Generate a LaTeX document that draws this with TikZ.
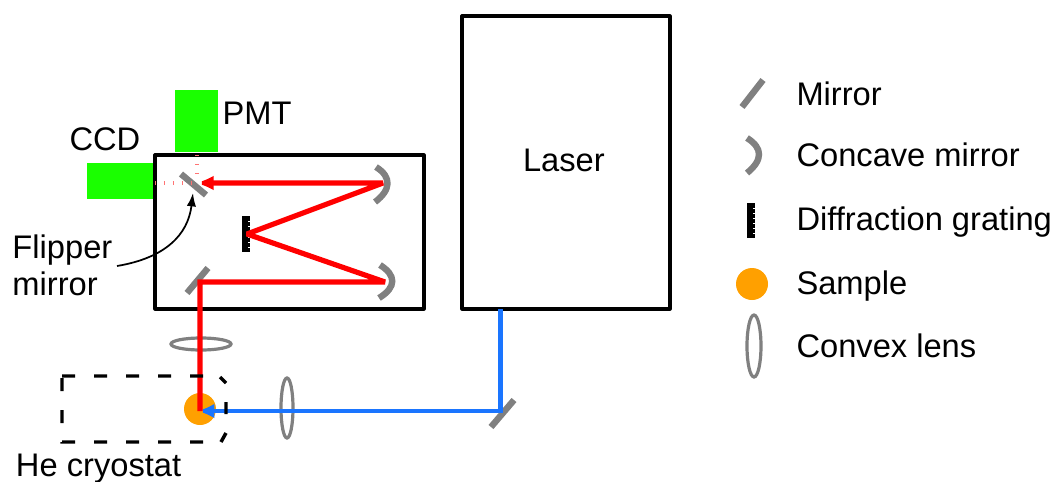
\documentclass[tikz,border=0pt]{standalone}
\usepackage{fontspec}
\setmainfont{Liberation Sans}
\usepackage{xcolor}
\usetikzlibrary{arrows.meta,positioning,calc}
\definecolor{beamred}    {RGB}{255,   0,   0}
\definecolor{beamblue}   {RGB}{ 26, 117, 255}
\definecolor{detgreen}   {RGB}{ 26, 255,   0}
\definecolor{optgray}    {RGB}{128, 128, 128}
\definecolor{sampleorange}{RGB}{255, 160,   0}

\begin{document}
\begin{tikzpicture}[
  x=0.75pt,y=-0.75pt,
  every node/.style={font=\fontsize{24.5}{27.75}\selectfont,inner sep=0pt,outer sep=0pt},
  lbl/.style={anchor=base west,align=left},
  box/.style={draw=black,line width=2.4pt,line join=round,fill=none},
  det/.style={fill=detgreen,draw=none},
  mirror/.style={draw=optgray,line width=4.8pt},
  concave/.style={draw=optgray,line width=4.8pt},
  lens/.style={draw=optgray,line width=2.4pt},
  sample/.style={circle,fill=sampleorange,minimum size=24pt},
  redbeam/.style={draw=beamred,line width=3.9pt,miter limit=2,-{Latex[length=14pt,width=11pt]}},
  bluebeam/.style={draw=beamblue,line width=3.4pt,miter limit=2,-{Latex[length=13pt,width=11pt]}},
  leak/.style={draw=beamred!55,line width=2.6pt,dash pattern=on 0.8pt off 5.9pt},
  cryo/.style={draw=black,line width=2.6pt,dash pattern=on 9.75pt off 14.25pt},
]
\useasboundingbox (0,0) rectangle (1054,482);

%% Boxes
\node[box,minimum width=156pt,minimum height=219.75pt] (laser) at (566,162.5) {};
\node[box,minimum width=201.75pt,minimum height=115.5pt] (spec) at (289.5,232) {};
\node[det,minimum width=32.25pt,minimum height=46.5pt] (pmt) at (196.5,121) {};
\node[det,minimum width=49.5pt,minimum height=27pt] (ccd) at (120,181) {};

%% Beam corners
\coordinate (turn) at (200,282);
\coordinate (lowcm) at (385,282);
\coordinate (grat) at (247,234);
\coordinate (upcm) at (383,183);
\coordinate (flip) at (195,183);
\coordinate (samp) at (200,411);
\coordinate (foldm) at (500.5,411);
\coordinate (lasout) at (500.5,309);

%% Flat mirrors
\draw[mirror] (181,174) -- (206,195);
\draw[mirror] (208,268) -- (187,293);
\draw[mirror] (514,400) -- (491,427);
\draw[mirror] (763,80) -- (742,107);

%% Concave mirrors
\draw[concave] (376,167) .. controls (392,177) and (391,190) .. (375,202);
\draw[concave] (380,265) .. controls (396,275) and (397,287) .. (379,298);
\draw[concave] (747,138) .. controls (763,148) and (763,160) .. (747,173);

%% Gratings
\foreach \gx/\gy/\gh in {242/216/36,747/203/35}{
  \fill[black] (\gx,\gy) rectangle ++(8,\gh);
  \foreach \k in {1,...,6}
    \fill[white] (\gx+5.5,\gy+\k*\gh/7) rectangle ++(2.5,1);
}

%% Sample and lenses
\node[sample] (sampleA) at (200,409) {};
\node[sample] (sampleB) at (752,284) {};
\draw[lens] (201,344) ellipse (30 and 6);
\draw[lens] (287,408) ellipse (6 and 30);
\draw[lens] (754,346) ellipse (7 and 31);

%% Leakage to detectors
\draw[leak] (155,183) -- (195,183);
\draw[leak] (197,155) -- (197,180);

%% Beams
\draw[redbeam] (samp) -- (turn) -- (lowcm) -- (grat) -- (upcm) -- (flip);
\draw[bluebeam] (lasout) -- (foldm) -- ($(samp)+(-3,0)$);

%% Cryostat
\draw[cryo] (62,376) -- (203,376) (203,442) -- (62,442) -- (62,376)
  (220,377) -- (226,383) (226,402) -- (226,414) (226,433) -- (221,442);

%% Labels
\node[lbl] (laserlbl) at (523,171) {Laser};
\node[lbl] (pmtlbl) at (222.5,124) {PMT};
\node[lbl] (ccdlbl) at (69.5,150) {CCD};
\node[anchor=west,align=left] (fliplbl) at (12.5,265) {Flipper\\mirror};
\node[lbl] (cryolbl) at (16,476.5) {He cryostat};
\coordinate (fliptip) at (193,193);
\draw[black,line width=1.3pt,-{Latex[length=10pt,width=7pt]}] (117,266) .. controls (165,258) and (188,235) .. (fliptip);

%% Legend
\node[lbl] (leg1) at (796.5,105) {Mirror};
\node[lbl] (leg2) at (796.5,166) {Concave mirror};
\node[lbl] (leg3) at (796.5,230) {Diffraction grating};
\node[lbl] (leg4) at (796.5,294.5) {Sample};
\node[lbl] (leg5) at (796.5,357) {Convex lens};

\end{tikzpicture}
\end{document}
